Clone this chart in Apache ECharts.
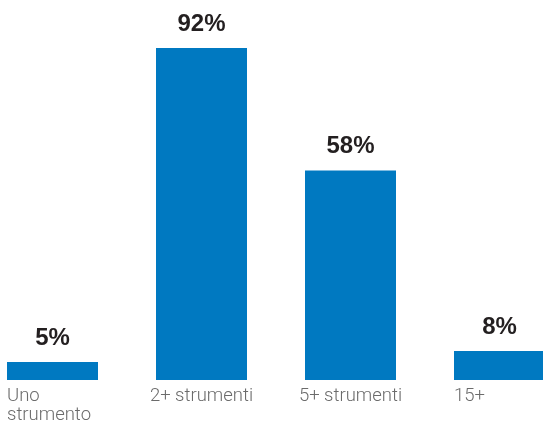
<!DOCTYPE html>
<html>
<head>
<meta charset="utf-8">
<script src="https://cdn.jsdelivr.net/npm/echarts@6/dist/echarts.min.js"></script>
<style>
  html, body { margin: 0; padding: 0; background: #fff; overflow: hidden; }
  #wrap { position: relative; width: 543px; height: 425px; overflow: hidden; }
  /* il grafico originale e' tagliato ai lati: contenitore piu' largo e spostato */
  #chart { position: absolute; left: -22px; top: 0; width: 596px; height: 425px; }
</style>
</head>
<body>
<div id="wrap"><div id="chart"></div></div>
<script>
// dati
var categorie = ['Uno\nstrumento', '2+ strumenti', '5+ strumenti', '15+'];
var valori = [5, 92, 58, 8];
// allineamento etichette asse x (prima e ultima a sinistra)
var allineamento = ['left', 'center', 'center', 'left'];

var chart = echarts.init(document.getElementById('chart'));

var option = {
  animation: false,
  grid: {
    left: 0,
    right: 0,
    top: 19,
    bottom: 42,
    containLabel: false
  },
  xAxis: {
    type: 'category',
    data: categorie.map(function (c, i) {
      return { value: c, textStyle: { rich: { t: { align: allineamento[i] } } } };
    }),
    axisLine: { show: false },
    axisTick: { show: false },
    axisLabel: {
      interval: 0,
      margin: 7,
      formatter: function (v) {
        return v.split('\n').map(function (r) { return '{t|' + r + '}'; }).join('\n');
      },
      rich: {
        t: {
          width: 91,
          fontFamily: 'Roboto',
          fontWeight: 300,
          fontSize: 18.5,
          lineHeight: 19,
          color: '#6b6b6b'
        }
      }
    }
  },
  yAxis: {
    type: 'value',
    min: 0,
    max: 100,
    show: false,
    splitLine: { show: false }
  },
  series: [{
    type: 'bar',
    data: valori,
    barWidth: 91,
    itemStyle: { color: '#0079c1' },
    label: {
      show: true,
      position: 'top',
      distance: 12,
      formatter: '{c}%',
      fontFamily: 'Liberation Sans',
      fontWeight: 'bold',
      fontSize: 24,
      color: '#231f20'
    }
  }]
};

chart.setOption(option);
</script>
</body>
</html>
